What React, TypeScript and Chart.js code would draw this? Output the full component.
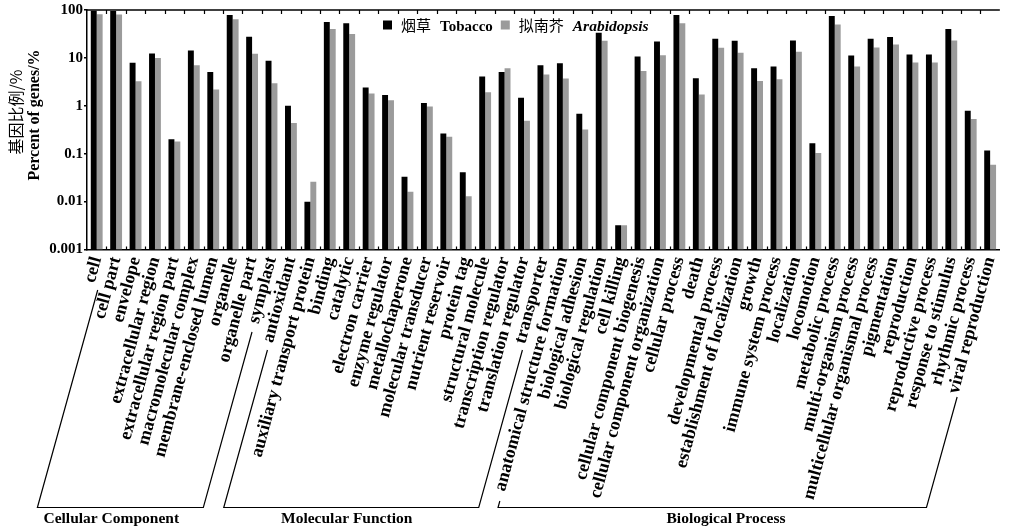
import React, { useEffect, useRef } from 'react';
import { Chart, registerables } from 'chart.js';

Chart.register(...registerables);

const categories = [
  'cell', 'cell part', 'envelope', 'extracellular region', 'extracellular region part',
  'macromolecular complex', 'membrane-enclosed lumen', 'organelle', 'organelle part', 'symplast',
  'antioxidant', 'auxiliary transport protein', 'binding', 'catalytic', 'electron carrier',
  'enzyme regulator', 'metallochaperone', 'molecular transducer', 'nutrient reservoir', 'protein tag',
  'structural molecule', 'transcription regulator', 'translation regulator', 'transporter',
  'anatomical structure formation', 'biological adhesion', 'biological regulation', 'cell killing',
  'cellular component biogenesis', 'cellular component organization', 'cellular process', 'death',
  'developmental process', 'establishment of localization', 'growth', 'immune system process',
  'localization', 'locomotion', 'metabolic process', 'multi-organism process',
  'multicellular organismal process', 'pigmentation', 'reproduction', 'reproductive process',
  'response to stimulus', 'rhythmic process', 'viral reproduction',
];

const tobacco = [
  96, 95, 7.9, 12.4, 0.2, 14.3, 5.1, 78.5, 27.7, 8.7,
  1.0, 0.0099, 56, 52.6, 2.4, 1.68, 0.033, 1.15, 0.264, 0.041, 4.1, 5.1, 1.48, 7.0,
  7.7, 0.68, 33.6, 0.0032, 10.7, 22, 78.5, 3.75, 25, 22.8, 6.1, 6.6, 23.2, 0.166,
  75, 11.2, 25, 27.2, 11.8, 11.8, 40, 0.79, 0.116,
];

const arabidopsis = [
  82, 81, 3.25, 9.9, 0.18, 7.0, 2.2, 64, 12.2, 2.95,
  0.44, 0.026, 40, 31.4, 1.8, 1.3, 0.016, 0.97, 0.225, 0.0129, 1.91, 6.1, 0.49, 4.5,
  3.7, 0.32, 22.8, 0.0032, 5.3, 11.4, 52.6, 1.73, 16.3, 12.8, 3.3, 3.57, 13.4, 0.104,
  50, 6.6, 16.5, 19.1, 8.0, 8.0, 23.2, 0.53, 0.059,
];

const yTicks = [0.001, 0.01, 0.1, 1, 10, 100];
const yTickLabels = ['0.001', '0.01', '0.1', '1', '10', '100'];

const groupNames = ['Cellular Component', 'Molecular Function', 'Biological Process'];
const groupStart = [0, 10, 24];
const groupEnd = [9, 23, 46];

const legendCn = ['烟草', '拟南芥'];
const legendEn = ['Tobacco', 'Arabidopsis'];
const yTitleCn = '基因比例/%';
const yTitleEn = 'Percent of genes/%';

// ---- layout / style constants ----
const W = 1016;
const H = 528;
const SERIF = '"Liberation Serif", "Times New Roman", serif';
const CJK = '"Noto Sans CJK SC", sans-serif';
const BLACK = '#000000';
const GRAY = '#9b9b9b';
const BRACKET_ANGLE = 74.5;
const BRACKET_Y = 507.5;
// [left dx from first category, left top y, right dx from last category, right top y, title position (category units)]
const bracketLayout = [
  [1, 290, -19.5, 332, 0.75],
  [-23.5, 350, -21, 350, 12.87],
  [-63, 501, -33, 397, 32.4],
];

const framePlugin = {
  id: 'frame',
  afterDatasetsDraw(chart: any) {
    const { ctx, chartArea } = chart;
    const xs = chart.scales.x;
    ctx.save();
    ctx.strokeStyle = BLACK;
    ctx.lineWidth = 1.5;
    ctx.beginPath();
    ctx.moveTo(chartArea.left, chartArea.top);
    ctx.lineTo(chartArea.right, chartArea.top);
    ctx.stroke();
    ctx.lineWidth = 1.2;
    const n = categories.length;
    for (let i = 1; i < n; i++) {
      const x = Math.round((xs.getPixelForValue(i - 1) + xs.getPixelForValue(i)) / 2) + 0.5;
      ctx.beginPath();
      ctx.moveTo(x, chartArea.top);
      ctx.lineTo(x, chartArea.top + 4);
      ctx.moveTo(x, chartArea.bottom);
      ctx.lineTo(x, chartArea.bottom - 3);
      ctx.stroke();
    }
    ctx.restore();
  },
  afterDraw(chart: any) {
    const { ctx } = chart;
    const xs = chart.scales.x;
    ctx.save();
    // legend
    let x = 383;
    const cy = 25.5;
    const colors = [BLACK, GRAY];
    ctx.textBaseline = 'alphabetic';
    ctx.textAlign = 'left';
    for (let i = 0; i < 2; i++) {
      ctx.fillStyle = colors[i];
      ctx.fillRect(x, cy - 5, 9, 9);
      x += 9 + 9;
      ctx.fillStyle = BLACK;
      ctx.font = `15px ${CJK}`;
      ctx.fillText(legendCn[i], x, 31);
      x += ctx.measureText(legendCn[i]).width + 9;
      ctx.font = i === 0 ? `bold 15px ${SERIF}` : `italic bold 15.5px ${SERIF}`;
      ctx.fillText(legendEn[i], x, 31);
      x += ctx.measureText(legendEn[i]).width + 8;
    }

    // y title
    ctx.fillStyle = BLACK;
    ctx.textAlign = 'center';
    ctx.textBaseline = 'middle';
    ctx.save();
    ctx.translate(15.5, 112);
    ctx.rotate(-Math.PI / 2);
    ctx.font = `16px ${CJK}`;
    ctx.fillText(yTitleCn, 0, 0);
    ctx.restore();
    ctx.save();
    ctx.translate(35, 115);
    ctx.rotate(-Math.PI / 2);
    ctx.font = `bold 16px ${SERIF}`;
    ctx.fillText(yTitleEn, 0, 0);
    ctx.restore();

    // brackets
    const k = 1 / Math.tan((BRACKET_ANGLE * Math.PI) / 180);
    ctx.strokeStyle = BLACK;
    ctx.lineWidth = 1.2;
    for (let g = 0; g < groupNames.length; g++) {
      const [dl, yl, dr, yr, tp] = bracketLayout[g];
      const lx = xs.getPixelForValue(groupStart[g]) + dl;
      const rx = xs.getPixelForValue(groupEnd[g]) + dr;
      ctx.beginPath();
      ctx.moveTo(lx, yl);
      ctx.lineTo(lx - (BRACKET_Y - yl) * k, BRACKET_Y);
      ctx.lineTo(rx - (BRACKET_Y - yr) * k, BRACKET_Y);
      ctx.lineTo(rx, yr);
      ctx.stroke();
      ctx.font = `bold 15.5px ${SERIF}`;
      ctx.textAlign = 'center';
      ctx.textBaseline = 'alphabetic';
      ctx.fillText(groupNames[g], xs.getPixelForValue(tp), 523);
    }
    ctx.restore();
  },
};

export default function App() {
  const ref = useRef<HTMLCanvasElement | null>(null);
  useEffect(() => {
    if (!ref.current) return;
    const chart = new Chart(ref.current, {
      type: 'bar',
      data: {
        labels: categories,
        datasets: [
          { label: legendEn[0], data: tobacco, backgroundColor: BLACK, barPercentage: 1, categoryPercentage: 0.61 },
          { label: legendEn[1], data: arabidopsis, backgroundColor: GRAY, barPercentage: 1, categoryPercentage: 0.61 },
        ],
      },
      options: {
        animation: false,
        responsive: false,
        maintainAspectRatio: false,
        layout: { padding: { top: 10, left: 0, right: 0, bottom: 0 } },
        plugins: { legend: { display: false }, tooltip: { enabled: false }, title: { display: false } },
        scales: {
          x: {
            type: 'category',
            offset: true,
            grid: { display: true, drawOnChartArea: false, drawTicks: false },
            border: { display: true, color: BLACK, width: 1.5 },
            ticks: {
              autoSkip: false,
              minRotation: 75,
              maxRotation: 75,
              padding: 5,
              color: BLACK,
              font: { family: SERIF, size: 18, weight: 'bold' },
            },
            afterFit: (s: any) => { s.height = H - 249.5; },
          },
          y: {
            type: 'logarithmic',
            min: 0.001,
            max: 100,
            afterBuildTicks: (s: any) => { s.ticks = yTicks.map((v) => ({ value: v })); },
            ticks: {
              padding: 1,
              color: BLACK,
              font: { family: SERIF, size: 15, weight: 'bold' },
              callback: (v: any) => {
                const i = yTicks.indexOf(Number(v));
                return i >= 0 ? yTickLabels[i] : '';
              },
            },
            grid: { drawOnChartArea: false, drawTicks: true, tickLength: 3, color: BLACK, lineWidth: 1.5 },
            border: { display: true, color: BLACK, width: 1.5 },
            afterFit: (s: any) => { s.width = 87; },
          },
        },
      },
      plugins: [framePlugin],
    } as any);
    return () => chart.destroy();
  }, []);

  return (
    <div style={{ position: 'fixed', left: 0, top: 0, width: 1009, height: H, overflow: 'hidden', background: '#fff' }}>
      <canvas ref={ref} width={W} height={H} style={{ width: W, height: H, display: 'block' }} />
    </div>
  );
}
